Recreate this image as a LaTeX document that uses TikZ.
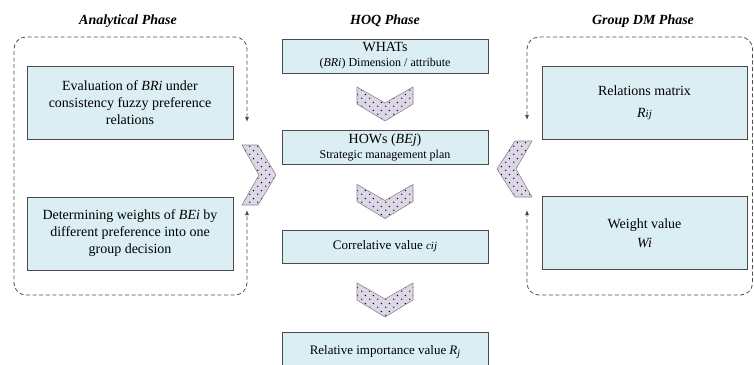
\documentclass[tikz,border=0pt]{standalone}
\usepackage{fontspec}
\setmainfont{Liberation Serif}
\usetikzlibrary{arrows.meta,patterns.meta}

% sparse staggered dots used inside the chevron arrows
\pgfdeclarepattern{
  name=sparsedots,
  type=uncolored,
  bottom left={\pgfpoint{0pt}{0pt}},
  top right={\pgfpoint{8pt}{8pt}},
  tile size={\pgfpoint{8pt}{8pt}},
  code={
    \pgfpathcircle{\pgfpoint{2pt}{2pt}}{0.8pt}
    \pgfpathcircle{\pgfpoint{6pt}{6pt}}{0.8pt}
    \pgfusepath{fill}
  }
}

\definecolor{boxfill}{HTML}{DAEEF3}
\definecolor{boxline}{HTML}{4A4A4A}
\definecolor{chevfill}{HTML}{DDD6E7}
\definecolor{chevline}{HTML}{8A8A8A}
\definecolor{frameline}{HTML}{505050}

\newcommand{\fs}[2]{\fontsize{#1}{#2}\selectfont}

\tikzset{
  stagebox/.style={draw=boxline, line width=0.9pt, fill=boxfill, align=center,
    inner sep=0pt, font=\fs{14}{17}},
  sidebox/.style={stagebox, minimum width=206pt, minimum height=73pt},
  hoqbox/.style={stagebox, minimum width=206pt},
  phasetitle/.style={font=\fs{14}{16}\bfseries\itshape, inner sep=0pt},
  chevron/.style={draw=chevline, line width=0.6pt, preaction={fill=chevfill},
    pattern=sparsedots, pattern color=black},
  phaseframe/.style={draw=frameline, line width=0.8pt, dash pattern=on 4pt off 2.6pt,
    rounded corners=12pt, {Latex[length=5pt,width=4pt,fill=black]}-{Latex[length=5pt,width=4pt,fill=black]}},
}

\begin{document}
\begin{tikzpicture}[x=1pt,y=-1pt]
\useasboundingbox (0,0) rectangle (754,364);

% phase titles
\node[phasetitle] (tA) at (128,21) {Analytical Phase};
\node[phasetitle] (tH) at (385,21) {HOQ Phase};
\node[phasetitle] (tG) at (643,21) {Group DM Phase};

% analytical phase
\node[sidebox] (eval) at (130,102.5)
  {Evaluation of \textit{BRi} under\\consistency fuzzy preference\\relations};
\node[sidebox] (detw) at (130,233.5)
  {Determining weights of \textit{BEi} by\\different preference into one\\group decision};

% HOQ phase
\node[hoqbox, minimum height=34pt] (whats) at (385,56)
  {WHATs\\[-2pt]{\fs{12}{14}(\textit{BRi}) Dimension / attribute}};
\node[hoqbox, minimum height=34pt] (hows) at (385,147)
  {HOWs (\textit{BEj})\\[-2pt]{\fs{12}{14}Strategic management plan}};
\node[hoqbox, minimum height=33pt] (corr) at (385,246.5)
  {\fs{13}{15}Correlative value {\itshape\fs{11}{12}cij}};
\node[hoqbox, minimum height=40pt] (relimp) at (385,352)
  {\fs{13}{15}Relative importance value \textit{R}\raisebox{-1.5pt}{\itshape\fs{10}{10}j}};

% group decision-making phase
\node[sidebox, minimum width=205pt] (relm) at (644.5,102.5)
  {Relations matrix\\[5pt]\textit{R}{\itshape\fs{11}{12}ij}};
\node[sidebox, minimum width=205pt] (wval) at (644.5,233)
  {Weight value\\[2pt]\textit{Wi}};

% dashed phase frames, open towards the chevrons
\coordinate (la) at (247,122);
\coordinate (lb) at (247,210);
\coordinate (ra) at (527,120);
\coordinate (rb) at (527,210);
\draw[phaseframe] (la) -- (247,37) -- (14,37) -- (14,295) -- (247,295) -- (lb);
\draw[phaseframe] (ra) -- (527,37) -- (752.5,37) -- (752.5,295) -- (527,295) -- (rb);

% downward chevrons between the HOQ stages
\foreach \t in {87,184.5,283}{
  \path[chevron] (357,\t) -- (385,\t+16) -- (413,\t) -- (413,\t+17)
    -- (385,\t+34) -- (357,\t+17) -- cycle;
}

% chevrons feeding the HOWs stage from both sides
\path[chevron] (242,145) -- (258,145) -- (276,175) -- (258,205) -- (242,205)
  -- (259,175) -- cycle;
\path[chevron] (532,141) -- (515,141) -- (497,169) -- (515,197) -- (532,197)
  -- (516,169) -- cycle;
\end{tikzpicture}
\end{document}
